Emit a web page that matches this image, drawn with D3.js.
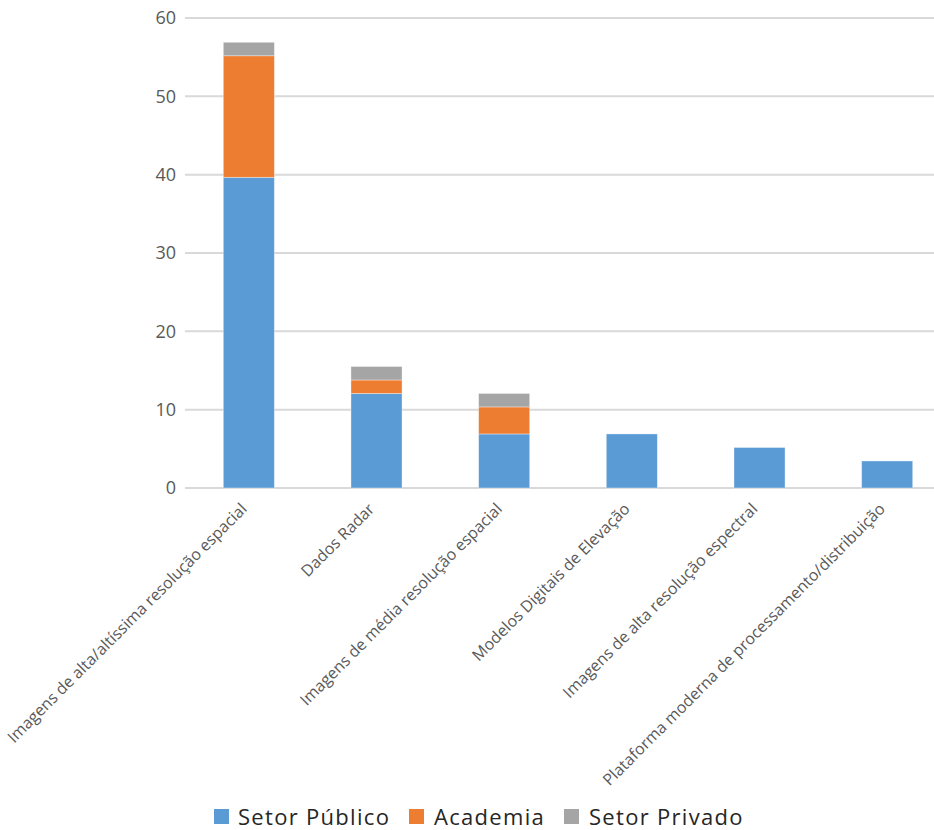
<!DOCTYPE html>
<html>
<head>
<meta charset="utf-8">
<script src="https://cdn.jsdelivr.net/npm/d3@7"></script>
<style>
  html, body { margin: 0; padding: 0; background: #fff; }
  svg { display: block; }
</style>
</head>
<body>
<svg id="chart" width="934" height="830"></svg>
<script>
// Demand by data type, share of respondents (%) per sector
const categories = [
  "Imagens de alta/altíssima resolução espacial",
  "Dados Radar",
  "Imagens de média resolução espacial",
  "Modelos Digitais de Elevação",
  "Imagens de alta resolução espectral",
  "Plataforma moderna de processamento/distribuição"
];
const seriesNames = ["Setor Público", "Academia", "Setor Privado"];
const setorPublico = [39.66, 12.07, 6.90, 6.90, 5.17, 3.45];
const academia     = [15.52, 1.72, 3.45, 0, 0, 0];
const setorPrivado = [1.72, 1.72, 1.72, 0, 0, 0];
const yTicks = [0, 10, 20, 30, 40, 50, 60];
const colors = ["#5B9BD5", "#ED7D31", "#A5A5A5"];

const rows = categories.map((c, i) => ({
  cat: c,
  "Setor Público": setorPublico[i],
  "Academia": academia[i],
  "Setor Privado": setorPrivado[i]
}));

const svg = d3.select("#chart");
const yTop = 18, yBottom = 488;
const xLeft = 185, xRight = 951;

const x = d3.scaleBand().domain(categories).range([xLeft, xRight]).paddingInner(0.6).paddingOuter(0.3);
const y = d3.scaleLinear().domain([0, 60]).range([yBottom, yTop]);
const color = d3.scaleOrdinal().domain(seriesNames).range(colors);

// gridlines
svg.append("g").selectAll("line").data(yTicks).join("line")
  .attr("x1", xLeft).attr("x2", 934)
  .attr("y1", d => y(d)).attr("y2", d => y(d))
  .attr("stroke", "#d9d9d9").attr("stroke-width", 2);

// y axis labels
const yAxis = d3.axisLeft(y).tickValues(yTicks).tickSize(0).tickPadding(0);
const yg = svg.append("g").attr("transform", `translate(176,0)`).call(yAxis);
yg.select(".domain").remove();
yg.selectAll("text")
  .attr("fill", "#595959")
  .style("font-family", "'Open Sans', sans-serif")
  .style("font-size", "18px");

// stacked bars
const stack = d3.stack().keys(seriesNames)(rows);
svg.append("g").selectAll("g").data(stack).join("g")
  .attr("fill", d => color(d.key))
  .selectAll("rect").data(d => d.filter(p => p[1] - p[0] > 0)).join("rect")
  .attr("x", d => x(d.data.cat))
  .attr("width", x.bandwidth())
  .attr("y", d => y(d[1]))
  .attr("height", d => y(d[0]) - y(d[1]))
  .attr("stroke", "rgba(255,255,255,0.45)")
  .attr("stroke-width", 0.8);

// x axis category labels, rotated
const xAxis = d3.axisBottom(x).tickSize(0).tickPadding(0);
const xg = svg.append("g").attr("transform", `translate(0,${yBottom})`).call(xAxis);
xg.select(".domain").remove();
xg.selectAll(".tick text")
  .attr("text-anchor", "end")
  .attr("fill", "#595959")
  .attr("dy", "0")
  .attr("y", 0)
  .attr("transform", "translate(-1,22) rotate(-45)")
  .style("font-family", "'Open Sans', sans-serif")
  .style("font-size", "16px");

// legend
const legendItems = [
  { name: seriesNames[0], sx: 214, tx: 238 },
  { name: seriesNames[1], sx: 409, tx: 434 },
  { name: seriesNames[2], sx: 564, tx: 589 }
];
const lg = svg.append("g");
legendItems.forEach(it => {
  lg.append("rect").attr("x", it.sx).attr("y", 809).attr("width", 15).attr("height", 15)
    .attr("fill", color(it.name));
  lg.append("text").attr("x", it.tx).attr("y", 825)
    .attr("fill", "#262626")
    .style("font-family", "'Open Sans', sans-serif")
    .style("font-size", "22px")
    .style("letter-spacing", "1.3px")
    .text(it.name);
});
</script>
</body>
</html>
